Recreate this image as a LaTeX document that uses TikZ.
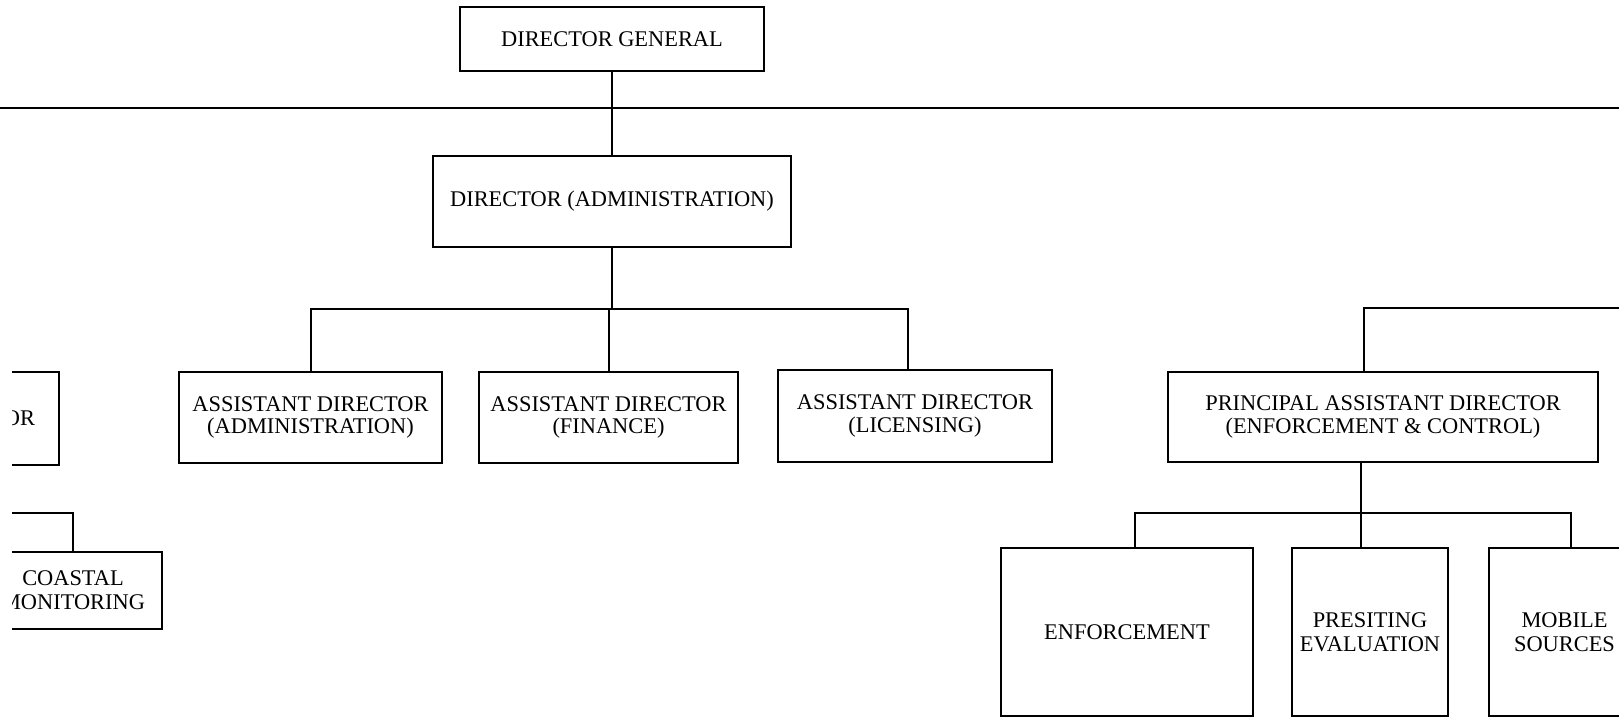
\documentclass[tikz,border=0pt]{standalone}
\usepackage{fontspec}
\setmainfont{Liberation Serif}
\begin{document}
\begin{tikzpicture}[x=0.5pt,y=-0.5pt,
  box/.style={draw,line width=1.1pt,inner sep=0pt,align=center,font=\fontsize{11.2}{11.2}\selectfont},
  loose/.style={font=\fontsize{11.2}{12}\selectfont},
  link/.style={line width=1pt}]
\useasboundingbox (0,0) rectangle (1619,719);
\begin{scope}
\clip (0,0) rectangle (1619,719);
% nodes
\node[box,minimum width=152pt,minimum height=32pt] (dg) at (612,39) {DIRECTOR GENERAL};
\node[box,minimum width=179pt,minimum height=45.5pt] (da) at (612,201.5) {DIRECTOR (ADMINISTRATION)};
\node[box,minimum width=131.5pt,minimum height=45.5pt] (aa) at (310.5,417.5) {ASSISTANT DIRECTOR\\(ADMINISTRATION)};
\node[box,minimum width=129.5pt,minimum height=45.5pt] (af) at (608.5,417.5) {ASSISTANT DIRECTOR\\(FINANCE)};
\node[box,minimum width=137pt,minimum height=46pt] (al) at (915,416) {ASSISTANT DIRECTOR\\(LICENSING)};
\node[box,minimum width=215pt,minimum height=45pt] (pad) at (1383,417) {PRINCIPAL ASSISTANT DIRECTOR\\(ENFORCEMENT \& CONTROL)};
\node[box,minimum width=126pt,minimum height=84pt] (enf) at (1127,632) {ENFORCEMENT};
\node[box,loose,minimum width=78pt,minimum height=84pt] (pre) at (1370,632) {PRESITING\\EVALUATION};
\node[box,loose,minimum width=75.5pt,minimum height=84pt] (mob) at (1564.5,632) {MOBILE\\SOURCES};
% helper coordinates
\coordinate (hl) at (0,108);
\coordinate (hr) at (1619,108);
\coordinate (pr) at (1619,308);
\coordinate (b1) at (0,309);
\coordinate (b2) at (0,513);
\coordinate (alc) at ([xshift=-3.5pt]al.north);
\coordinate (padt) at ([xshift=-9.5pt]pad.north);
\coordinate (padb) at ([xshift=-11pt]pad.south);
\coordinate (enft) at ([xshift=4pt]enf.north);
\coordinate (mobt) at ([xshift=3.25pt]mob.north);
% connectors
\draw[link] (hl) -- (hr);
\draw[link] (dg.south) -- (da.north);
\draw[link] (da.south) -- (da.south |- b1);
\draw[link] (aa.north) -- (aa.north |- b1) -- (alc |- b1) -- (alc);
\draw[link] (af.north) -- (af.north |- b1);
\draw[link] (padt) |- (pr);
\draw[link] (padb) -- (padb |- pre.north);
\draw[link] (enft) |- (mobt |- b2) -- (mobt);
\end{scope}
\begin{scope}
\clip (12,0) rectangle (1619,719);
\node[box,text width=100pt,align=right,inner xsep=12pt,minimum height=46.5pt] (lb) at (-65,418.5) {OR};
\node[box,loose,minimum width=89pt,minimum height=38.5pt] (cm) at (73,590.5) {COASTAL\\MONITORING};
\coordinate (cl) at (-50,513);
\draw[link] (cl) -| (cm.north);
\end{scope}
\end{tikzpicture}
\end{document}
